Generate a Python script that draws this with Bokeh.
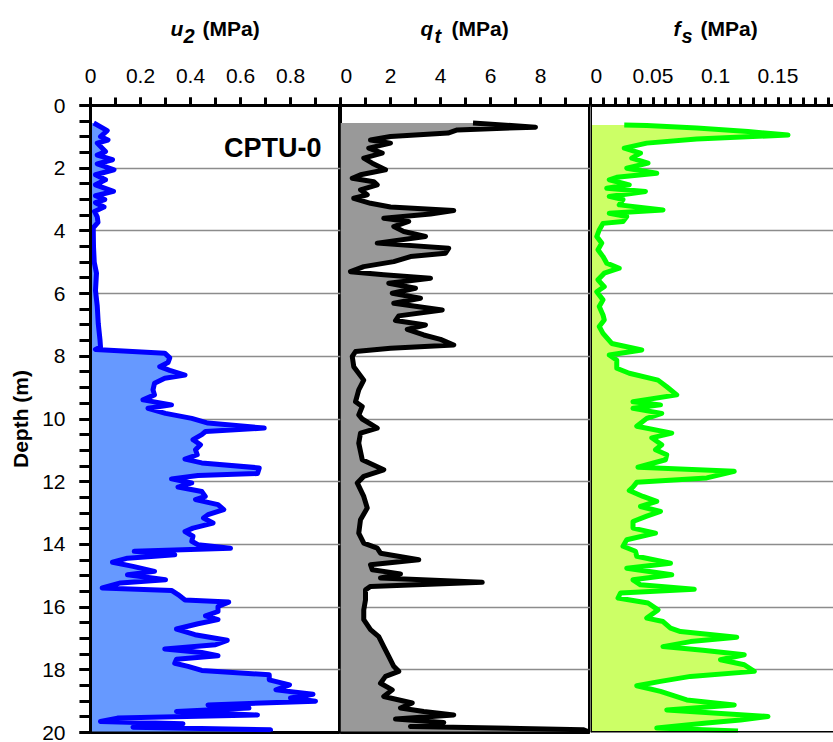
from bokeh.plotting import figure
from bokeh.layouts import row, column
from bokeh.models import Range1d, FixedTicker, Label, Span
from bokeh.embed import file_html
from bokeh.resources import INLINE

# ---------------- data ----------------
u2_depth = [0.56, 0.8, 0.99, 1.1, 1.2, 1.47, 1.58, 1.73, 1.86, 2.05, 2.21, 2.37, 2.53, 2.74, 2.88, 3.0, 3.1,
            3.24, 3.38, 3.55, 3.73, 3.9, 4.5, 5.0, 5.35, 5.9, 6.4, 6.95, 7.48, 7.7, 7.78, 7.9, 8.05, 8.2,
            8.33, 8.45, 8.6, 8.7, 8.86, 9.07, 9.23, 9.39, 9.55, 9.66, 9.82, 9.98, 10.13, 10.29, 10.4, 10.5,
            10.66, 10.82, 10.98, 11.14, 11.28, 11.4, 11.56, 11.74, 11.8, 11.91, 12.04, 12.17, 12.31, 12.47,
            12.57, 12.73, 12.89, 13.05, 13.16, 13.32, 13.48, 13.59, 13.74, 13.9, 14.01, 14.12, 14.22, 14.33,
            14.44, 14.57, 14.7, 14.86, 14.97, 15.13, 15.23, 15.39, 15.47, 15.6, 15.77, 15.84, 15.98, 16.14,
            16.28, 16.4, 16.53, 16.7, 16.88, 17.06, 17.2, 17.34, 17.45, 17.55, 17.66, 17.79, 17.89, 18.02,
            18.16, 18.32, 18.48, 18.64, 18.78, 18.9, 19.0, 19.12, 19.22, 19.33, 19.44, 19.54, 19.65, 19.72,
            19.83, 19.91, 19.97]
u2_mpa = [0.013, 0.067, 0.04, 0.07, 0.027, 0.06, 0.027, 0.088, 0.027, 0.094, 0.02, 0.06, 0.02, 0.092, 0.02,
          0.057, 0.02, 0.054, 0.016, 0.027, 0.03, 0.011, 0.012, 0.015, 0.024, 0.02, 0.027, 0.031, 0.038, 0.04,
          0.02, 0.297, 0.317, 0.31, 0.277, 0.317, 0.378, 0.297, 0.256, 0.25, 0.256, 0.21, 0.324, 0.23, 0.30,
          0.405, 0.47, 0.695, 0.46, 0.445, 0.41, 0.44, 0.42, 0.427, 0.378, 0.445, 0.675, 0.668, 0.43, 0.324,
          0.405, 0.35, 0.445, 0.459, 0.42, 0.51, 0.533, 0.47, 0.452, 0.49, 0.41, 0.378, 0.41, 0.405, 0.43,
          0.56, 0.175, 0.337, 0.148, 0.088, 0.17, 0.256, 0.148, 0.30, 0.12, 0.047, 0.324, 0.35, 0.378, 0.553,
          0.51, 0.51, 0.46, 0.51, 0.43, 0.344, 0.418, 0.547, 0.5, 0.297, 0.445, 0.51, 0.344, 0.337, 0.39,
          0.445, 0.715, 0.715, 0.796, 0.742, 0.89, 0.80, 0.90, 0.47, 0.634, 0.344, 0.668, 0.108, 0.04, 0.37,
          0.17, 0.72, 0.72]

qt_depth = [0.56, 0.69, 0.78, 0.88, 0.99, 1.1, 1.2, 1.36, 1.52, 1.68, 1.84, 2.05, 2.21, 2.32, 2.43, 2.53,
            2.69, 2.85, 2.96, 3.12, 3.24, 3.35, 3.46, 3.6, 3.7, 3.86, 4.02, 4.18, 4.39, 4.55, 4.71, 4.82,
            4.98, 5.14, 5.3, 5.4, 5.51, 5.67, 5.83, 5.99, 6.15, 6.31, 6.52, 6.71, 6.86, 7.0, 7.14, 7.32,
            7.46, 7.64, 7.74, 7.85, 8.0, 8.33, 8.76, 9.07, 9.45, 9.6, 9.87, 10.0, 10.29, 10.45, 10.77, 11.3,
            11.62, 11.83, 12.04, 12.47, 12.84, 13.21, 13.64, 13.96, 14.12, 14.28, 14.49, 14.65, 14.81, 14.94,
            15.07, 15.21, 15.34, 15.45, 15.77, 16.09, 16.4, 16.72, 16.94, 17.26, 17.57, 17.89, 18.05, 18.21,
            18.43, 18.64, 18.85, 19.06, 19.22, 19.33, 19.44, 19.57, 19.68, 19.81, 19.91, 19.97]
qt_mpa = [5.3, 7.8, 4.67, 4.3, 2.0, 1.2, 2.0, 1.13, 1.67, 0.93, 1.27, 1.8, 0.8, 0.47, 1.33, 1.47, 0.8, 1.07,
          0.53, 1.2, 2.0, 4.53, 3.6, 1.73, 2.73, 2.13, 2.53, 3.4, 1.47, 4.33, 4.2, 2.8, 2.13, 0.93, 0.4, 1.73,
          3.6, 1.93, 3.0, 2.07, 3.2, 2.13, 4.07, 2.33, 2.2, 3.4, 2.67, 3.33, 4.0, 4.53, 2.0, 0.6, 0.47, 0.53,
          0.93, 0.73, 0.6, 0.87, 0.73, 0.87, 1.47, 0.8, 0.73, 0.87, 1.73, 0.93, 0.67, 0.93, 1.07, 0.8, 0.73,
          0.93, 1.47, 1.6, 3.13, 1.2, 1.27, 2.4, 1.6, 5.67, 1.2, 1.0, 1.0, 0.93, 0.93, 1.2, 1.53, 1.73, 1.93,
          2.13, 2.33, 1.8, 1.6, 2.07, 1.73, 2.87, 2.4, 3.33, 4.53, 2.2, 4.13, 2.8, 9.7, 9.9]

fs_depth = [0.62, 0.64, 0.72, 0.83, 0.94, 1.07, 1.2, 1.36, 1.52, 1.68, 1.84, 2.0, 2.16, 2.29, 2.37, 2.53,
            2.64, 2.74, 2.9, 3.0, 3.17, 3.33, 3.44, 3.54, 3.7, 3.76, 3.97, 4.18, 4.39, 4.6, 4.82, 5.03, 5.19,
            5.35, 5.56, 5.78, 5.94, 6.2, 6.41, 6.68, 6.84, 7.05, 7.27, 7.59, 7.8, 7.96, 8.12, 8.38, 8.54,
            8.76, 8.97, 9.23, 9.45, 9.55, 9.66, 9.82, 9.98, 10.23, 10.45, 10.6, 10.82, 10.98, 11.14, 11.3,
            11.54, 11.67, 11.88, 12.02, 12.17, 12.28, 12.47, 12.63, 12.79, 12.95, 13.1, 13.27, 13.48, 13.64,
            13.85, 14.06, 14.22, 14.38, 14.6, 14.76, 14.97, 15.13, 15.29, 15.43, 15.55, 15.71, 15.87, 16.09,
            16.35, 16.46, 16.67, 16.78, 16.96, 17.1, 17.26, 17.38, 17.52, 17.68, 17.84, 18.05, 18.21, 18.37,
            18.51, 18.69, 18.96, 19.12, 19.28, 19.49, 19.6, 19.7, 19.86, 19.95]
fs_mpa = [0.027, 0.045, 0.085, 0.126, 0.158, 0.085, 0.045, 0.027, 0.04, 0.033, 0.046, 0.029, 0.053, 0.021,
          0.015, 0.031, 0.013, 0.044, 0.015, 0.026, 0.023, 0.058, 0.015, 0.029, 0.026, 0.01, 0.007, 0.005,
          0.009, 0.006, 0.01, 0.013, 0.023, 0.011, 0.006, 0.011, 0.005, 0.01, 0.007, 0.01, 0.011, 0.007, 0.01,
          0.017, 0.041, 0.015, 0.021, 0.021, 0.031, 0.054, 0.061, 0.069, 0.034, 0.056, 0.034, 0.057, 0.045,
          0.037, 0.065, 0.049, 0.057, 0.052, 0.061, 0.06, 0.038, 0.115, 0.093, 0.037, 0.034, 0.031, 0.042,
          0.053, 0.04, 0.056, 0.045, 0.034, 0.034, 0.052, 0.029, 0.026, 0.036, 0.037, 0.064, 0.029, 0.065,
          0.034, 0.04, 0.083, 0.024, 0.022, 0.046, 0.054, 0.045, 0.058, 0.064, 0.072, 0.117, 0.08, 0.058,
          0.09, 0.123, 0.104, 0.123, 0.131, 0.08, 0.056, 0.037, 0.056, 0.077, 0.115, 0.061, 0.142, 0.12,
          0.093, 0.053, 0.118]

depth_ticks = [0, 2, 4, 6, 8, 10, 12, 14, 16, 18, 20]
depth_labels = ["0", "2", "4", "6", "8", "10", "12", "14", "16", "18", "20"]
u2_ticks = [0, 0.2, 0.4, 0.6, 0.8]
u2_labels = ["0", "0.2", "0.4", "0.6", "0.8"]
qt_ticks = [0, 2, 4, 6, 8]
qt_labels = ["0", "2", "4", "6", "8"]
fs_ticks = [0, 0.05, 0.1, 0.15]
fs_labels = ["0", "0.05", "0.1", "0.15"]

FONT = "Liberation Sans"
TITLE_H = 50          # height of the strip that holds the panel titles
LEFT = 90             # left border of the first panel
PANEL_W = 250         # frame width of each panel


def make_panel(width, xmax, minor_step, nminor, ticks, labels, left_border, show_y):
    p = figure(width=width, height=742 - TITLE_H, output_backend="svg", toolbar_location=None,
               x_axis_location="above", y_axis_location="left" if show_y else None,
               x_range=Range1d(0, xmax), y_range=Range1d(20, 0),
               min_border_left=left_border, min_border_right=0, min_border_top=105 - TITLE_H,
               min_border_bottom=10)
    p.background_fill_color = "white"
    p.border_fill_color = "white"
    p.xgrid.grid_line_color = None
    p.ygrid.ticker = FixedTicker(ticks=depth_ticks)
    p.ygrid.grid_line_color = "#8c8c8c"
    p.ygrid.grid_line_width = 1.3
    ax = p.xaxis[0]
    ax.ticker = FixedTicker(ticks=ticks, minor_ticks=[i * minor_step for i in range(nminor + 1)])
    ax.major_label_overrides = dict(zip(ticks, labels))
    ax.axis_line_width = 3
    ax.axis_line_color = "black"
    ax.major_tick_line_width = 3
    ax.minor_tick_line_width = 3
    ax.major_tick_out = 8
    ax.major_tick_in = 0
    ax.minor_tick_out = 8
    ax.minor_tick_in = 0
    ax.major_label_text_font = FONT
    ax.major_label_text_font_size = "21px"
    ax.major_label_text_color = "black"
    ax.major_label_standoff = 15
    if show_y:
        ay = p.yaxis[0]
        ay.ticker = FixedTicker(ticks=depth_ticks, minor_ticks=[i * 0.5 for i in range(41)])
        ay.major_label_overrides = dict(zip(depth_ticks, depth_labels))
        ay.axis_line_width = 3
        ay.major_tick_line_width = 3
        ay.minor_tick_line_width = 3
        ay.major_tick_out = 11
        ay.major_tick_in = 0
        ay.minor_tick_out = 11
        ay.minor_tick_in = 0
        ay.major_label_text_font = FONT
        ay.major_label_text_font_size = "21px"
        ay.major_label_text_color = "black"
        ay.major_label_standoff = 14
        ay.axis_label = "Depth (m)"
        ay.axis_label_text_font = FONT
        ay.axis_label_text_font_size = "21px"
        ay.axis_label_text_font_style = "bold"
        ay.axis_label_text_color = "black"
        ay.axis_label_standoff = 7
    return p


p1 = make_panel(LEFT + PANEL_W, 1.0, 0.1, 10, u2_ticks, u2_labels, LEFT, True)
p2 = make_panel(PANEL_W, 10.0, 1.0, 10, qt_ticks, qt_labels, 0, False)
p3 = make_panel(833 - LEFT - 2 * PANEL_W, 0.2 * (833 - LEFT - 2 * PANEL_W) / PANEL_W, 0.01, 19,
                fs_ticks, fs_labels, 0, False)

for p in (p1, p2):
    p.outline_line_color = "black"
    p.outline_line_width = 3
p3.outline_line_color = None
p3.add_layout(Span(location=0, dimension="height", line_color="black", line_width=3))
p3.add_layout(Span(location=20, dimension="width", line_color="black", line_width=3))

# fills and lines
p1.harea(y=u2_depth, x1=0, x2=u2_mpa, fill_color="#6699FF", fill_alpha=1.0)
p1.line(x=u2_mpa, y=u2_depth, line_color="#0000FF", line_width=5, line_join="round")
p2.harea(y=qt_depth, x1=0, x2=qt_mpa, fill_color="#999999", fill_alpha=1.0)
p2.line(x=qt_mpa, y=qt_depth, line_color="#000000", line_width=5, line_join="round")
p3.harea(y=fs_depth, x1=0, x2=fs_mpa, fill_color="#CCFF66", fill_alpha=1.0)
p3.line(x=fs_mpa, y=fs_depth, line_color="#00FF00", line_width=5, line_join="round")

p1.add_layout(Label(x=0.924, y=1.35, text="CPTU-0", text_font=FONT, text_font_size="27px",
                    text_font_style="bold", text_align="right", text_baseline="alphabetic",
                    text_color="black"))

# ---- title strip (x in px from left, y in px from bottom) ----
tp = figure(width=833, height=TITLE_H, output_backend="svg", toolbar_location=None,
            x_axis_location=None, y_axis_location=None,
            x_range=Range1d(0, 833), y_range=Range1d(0, TITLE_H),
            min_border=0)
tp.outline_line_color = None
tp.grid.grid_line_color = None
tp.background_fill_color = "white"
tp.border_fill_color = "white"


def add_title(xc, var, sub, offs):
    base = TITLE_H - 28
    subb = TITLE_H - 35
    tp.add_layout(Label(x=xc + offs[0], y=base, text=var, text_font=FONT, text_font_size="21px",
                        text_font_style="bold italic", text_baseline="alphabetic", text_color="black"))
    tp.add_layout(Label(x=xc + offs[1], y=subb, text=sub, text_font=FONT, text_font_size="20px",
                        text_font_style="bold italic", text_baseline="alphabetic", text_color="black"))
    tp.add_layout(Label(x=xc + offs[2], y=base, text="(MPa)", text_font=FONT, text_font_size="21px",
                        text_font_style="bold", text_baseline="alphabetic", text_color="black"))


add_title(LEFT + PANEL_W / 2, "u", "2", (-45, -32, -13))
add_title(LEFT + 1.5 * PANEL_W, "q", "t", (-45, -31, -14))
add_title(LEFT + 2.5 * PANEL_W, "f", "s", (-42, -34, -15))

layout = column(tp, row(p1, p2, p3))
open("out.html", "w").write(file_html(layout, INLINE))
